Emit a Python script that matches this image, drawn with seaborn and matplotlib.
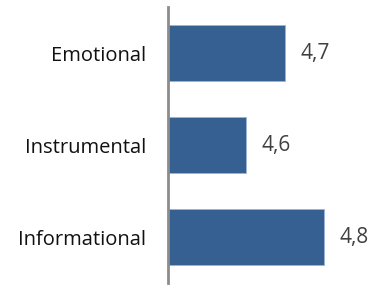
import matplotlib.pyplot as plt
import seaborn as sns
import pandas as pd

sns.set_theme(style="white")
plt.rcParams['font.family'] = ['Open Sans', 'DejaVu Sans']

# Data
categories = ['Emotional', 'Instrumental', 'Informational']
values = [4.7, 4.6, 4.8]
value_labels = ['4,7', '4,6', '4,8']

df = pd.DataFrame({'Category': categories, 'Value': values})

fig = plt.figure(figsize=(3.69, 2.86), dpi=100)
ax = fig.add_axes([168 / 369, 3 / 286, 201 / 369, 276 / 286])

sns.barplot(data=df, x='Value', y='Category', color='#376092', orient='h',
            width=0.6, saturation=1, edgecolor='#9DB3D4', linewidth=0.6, ax=ax)

ax.set_xlim(4.4, 4.4 + 201 / 390)
ax.set_xlabel('')
ax.set_ylabel('')
ax.set_xticks([])
ax.tick_params(axis='y', length=0, pad=16, labelsize=14.5, labelcolor='#111111')

for s in ['top', 'right', 'bottom']:
    ax.spines[s].set_visible(False)
ax.spines['left'].set_color('#8C8C8C')
ax.spines['left'].set_linewidth(2)

# Value labels
for p, lab in zip(ax.patches, value_labels):
    ax.annotate(lab, (p.get_x() + p.get_width(), p.get_y() + p.get_height() / 2),
                xytext=(11, 0), textcoords='offset points',
                ha='left', va='center', fontsize=15, color='#404040')

fig.savefig('out.png', dpi=100)
